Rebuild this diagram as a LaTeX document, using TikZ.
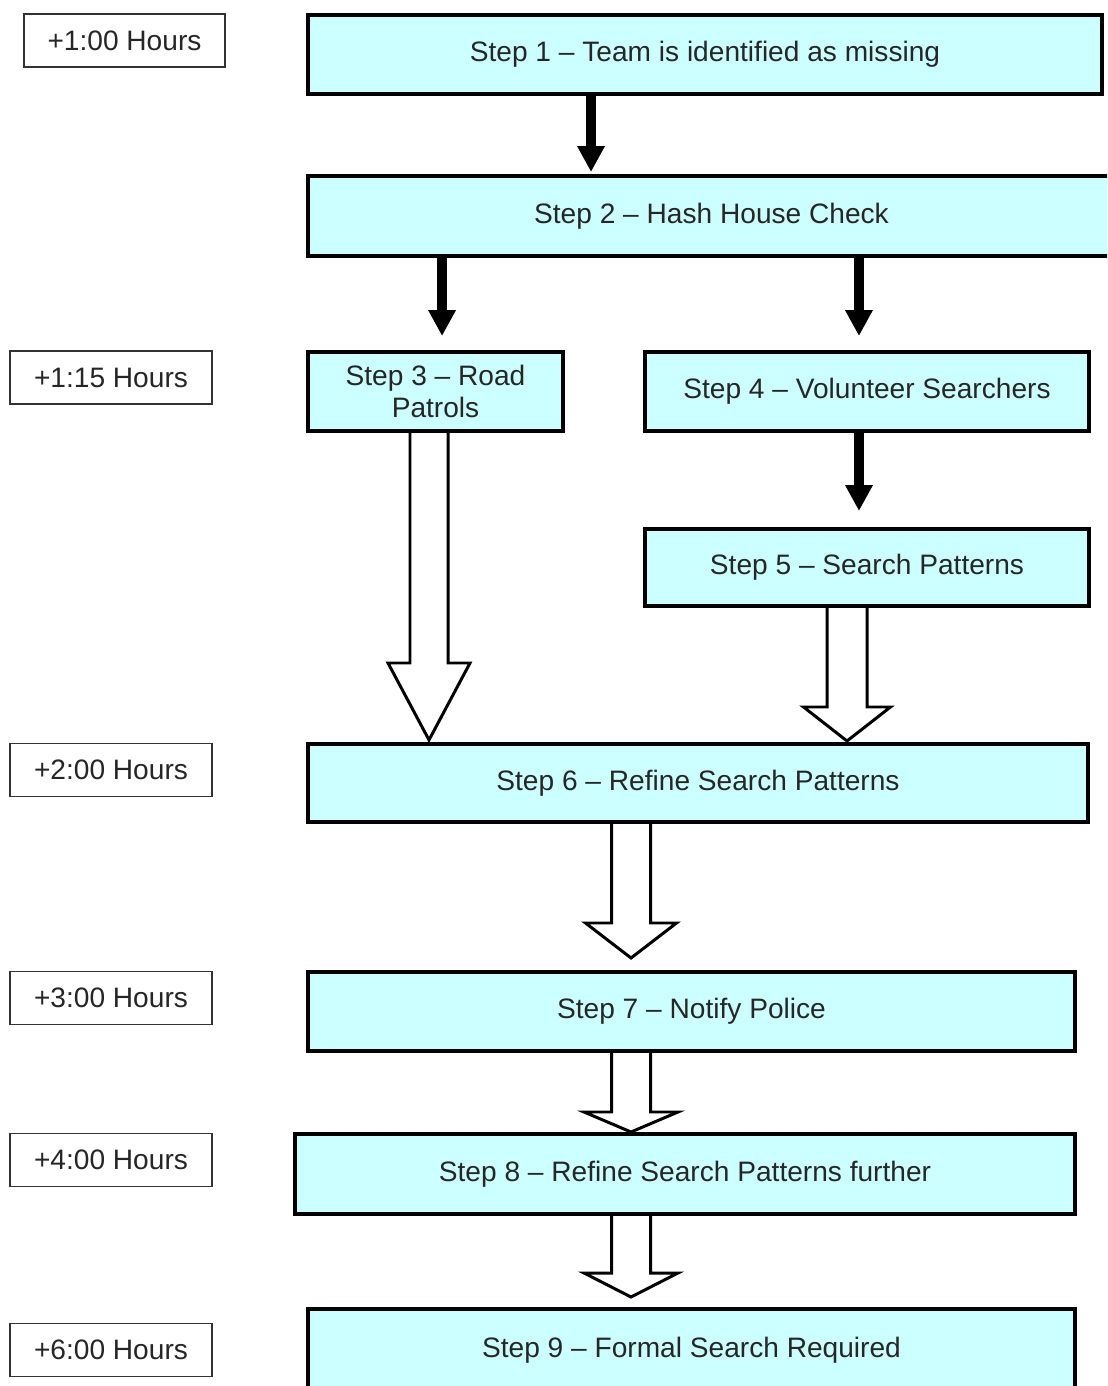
\documentclass[tikz,border=0pt]{standalone}
\usepackage{fontspec}
\setmainfont{Liberation Sans}
\usetikzlibrary{arrows.meta}
\definecolor{stepcyan}{HTML}{CCFFFF}

\begin{document}
\begin{tikzpicture}[x=0.02cm, y=-0.02cm,
                    stepbox/.style={draw, line width=2.2pt, fill=stepcyan, text=black!85, align=center,
                            font=\fontsize{16}{18.7}\selectfont, inner sep=0pt, outer sep=0pt},
                    timebox/.style={draw=black!80, line width=0.9pt, fill=white, text=black!85,
                            font=\fontsize{16}{18.7}\selectfont, minimum width=4.04cm,
                            minimum height=1.06cm, inner sep=0pt, outer sep=0pt},
                    arr/.style={-{Triangle[length=0.52cm, width=0.52cm]}, line width=0.2cm},
                    hollow/.style={line width=1.7pt, line join=miter}]
                \useasboundingbox (0,0) rectangle (1107,1386);
                \clip (0,0) rectangle (1107,1386);
                % time column
                \node[timebox, minimum width=4.02cm] (t1) at (124.5,40.5) {+1:00 Hours};
                \node[timebox] (t2) at (111,377.5) {+1:15 Hours};
                \node[timebox] (t3) at (111,770) {+2:00 Hours};
                \node[timebox] (t4) at (111,998) {+3:00 Hours};
                \node[timebox] (t5) at (111,1160) {+4:00 Hours};
                \node[timebox] (t6) at (111,1350) {+6:00 Hours};
                % steps
                \node[stepbox, minimum width=15.88cm, minimum height=1.58cm] (s1) at (705,54.5) {Step 1 -- Team is identified as missing};
                \node[stepbox, minimum width=16.14cm, minimum height=1.60cm] (s2) at (711.5,216) {Step 2 -- Hash House Check};
                \node[stepbox, minimum width=5.10cm, minimum height=1.58cm] (s3) at (435.5,391.5) {Step 3 -- Road\\Patrols};
                \node[stepbox, minimum width=8.88cm, minimum height=1.58cm] (s4) at (867,391.5) {Step 4 -- Volunteer Searchers};
                \node[stepbox, minimum width=8.88cm, minimum height=1.54cm] (s5) at (867,567.5) {Step 5 -- Search Patterns};
                \node[stepbox, minimum width=15.60cm, minimum height=1.56cm] (s6) at (698,783) {Step 6 -- Refine Search Patterns};
                \node[stepbox, minimum width=15.34cm, minimum height=1.58cm] (s7) at (691.5,1011.5) {Step 7 -- Notify Police};
                \node[stepbox, minimum width=15.60cm, minimum height=1.60cm] (s8) at (685,1174) {Step 8 -- Refine Search Patterns further};
                \node[stepbox, minimum width=15.34cm, minimum height=1.64cm] (s9) at (691.5,1350) {Step 9 -- Formal Search Required};
                % solid arrows
                \path ([xshift=-2.28cm]s1.south) coordinate (p1)
                      ([xshift=-5.39cm]s2.south) coordinate (p2)
                      ([xshift=2.95cm]s2.south) coordinate (p3)
                      ([xshift=-0.16cm]s4.south) coordinate (p4);
                \draw[arr, shorten >=0.08cm] (p1) -- (p1 |- s2.north);
                \draw[arr, shorten >=0.32cm] (p2) -- (p2 |- s3.north);
                \draw[arr, shorten >=0.32cm] (p3) -- (p3 |- s4.north);
                \draw[arr, shorten >=0.36cm] (p4) -- (p4 |- s5.north);
                % hollow block arrows
                \path ([xshift=-0.13cm]s3.south) coordinate (b1)
                      ([xshift=-0.40cm]s5.south) coordinate (b2)
                      ([xshift=-1.34cm]s6.south) coordinate (b3)
                      ([xshift=-1.21cm]s7.south) coordinate (b4)
                      ([xshift=-1.08cm]s8.south) coordinate (b5);
                \draw[hollow] (b1) ++(-19,0) -- ++(0,232) -- ++(-22,0) -- ++(41,77) -- ++(41,-77) -- ++(-22,0) -- ++(0,-232);
                \draw[hollow] (b2) ++(-20,0) -- ++(0,101) -- ++(-23.5,0) -- ++(43.5,34) -- ++(43.5,-34) -- ++(-23.5,0) -- ++(0,-101);
                \draw[hollow] (b3) ++(-19.5,0) -- ++(0,101) -- ++(-26,0) -- ++(45.5,35) -- ++(45.5,-35) -- ++(-26,0) -- ++(0,-101);
                \draw[hollow] (b4) ++(-19.5,0) -- ++(0,61) -- ++(-27.5,0) -- ++(47,20) -- ++(47,-20) -- ++(-27.5,0) -- ++(0,-61);
                \draw[hollow] (b5) ++(-19.5,0) -- ++(0,59) -- ++(-27.5,0) -- ++(47,24) -- ++(47,-24) -- ++(-27.5,0) -- ++(0,-59);
            \end{tikzpicture}
\end{document}
